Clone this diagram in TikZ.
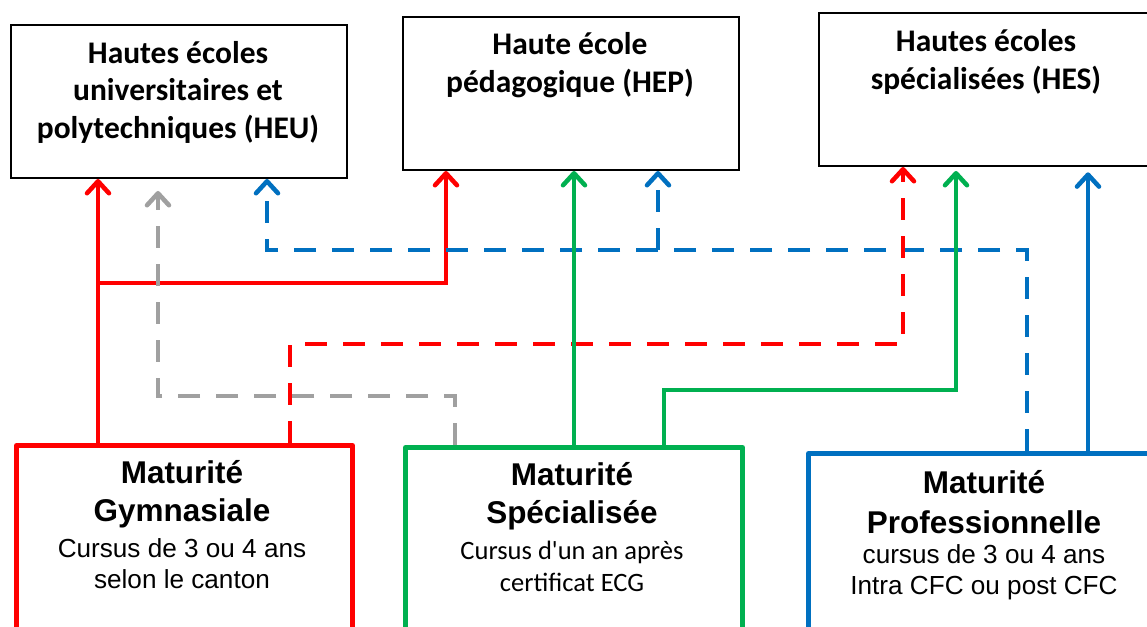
\documentclass[tikz,border=0pt]{standalone}
\usepackage{fontspec}
\usetikzlibrary{arrows.meta}
\newfontfamily\calfont{Carlito}
\newfontfamily\arifont{Liberation Sans}
\definecolor{cred}{HTML}{FF0000}
\definecolor{cgreen}{HTML}{00B050}
\definecolor{cblue}{HTML}{0070C0}
\definecolor{cgray}{HTML}{A0A0A0}
\tikzset{
  topbox/.style={draw=black, line width=1.5pt, minimum width=252pt, minimum height=114.75pt, anchor=north west, inner sep=0pt},
  botbox/.style={draw=#1, line width=3.7pt, line join=round, minimum height=150pt, anchor=north west, inner sep=0pt},
  toptext/.style={font=\calfont\bfseries\fontsize{23.6}{28.1}\selectfont, align=center, inner sep=0pt},
  bottitle/.style={font=\arifont\bfseries\fontsize{23.6}{28.5}\selectfont, align=center, inner sep=0pt},
  botsub/.style={font=\arifont\fontsize{19.6}{23.25}\selectfont, align=center, inner sep=0pt},
  botsubcal/.style={font=\calfont\fontsize{19.9}{24}\selectfont, align=center, inner sep=0pt},
  conn/.style={draw=#1, line width=3.4pt, -{Straight Barb[length=9pt,width=16.5pt,round]}},
  dconn/.style={conn=#1, dash pattern=on 16.5pt off 12pt},
}
\begin{document}
\begin{tikzpicture}[x=0.75pt,y=-0.75pt]
\useasboundingbox (0,0) rectangle (1147,627);
\clip (0,0) rectangle (1147,627);
\fill[white] (0,0) rectangle (1147,627);

% top boxes
\node[topbox] (HEU) at (10,24) {};
\node[topbox] (HEP) at (402,16) {};
\node[topbox] (HES) at (818,12) {};
\node[toptext] (tHEU) at (178,92) {Hautes écoles\\universitaires et\\polytechniques (HEU)};
\node[toptext] (tHEP) at (570,65) {Haute école\\pédagogique (HEP)};
\node[toptext] (tHES) at (986,62) {Hautes écoles\\spécialisées (HES)};

% bottom boxes
\node[botbox=cred, minimum width=252pt] (MG) at (14,443) {};
\node[botbox=cgreen, minimum width=252.75pt] (MS) at (403,445) {};
\node[botbox=cblue, minimum width=262.5pt] (MP) at (806,451) {};
\node[bottitle] (tMG) at (182,494) {Maturité\\Gymnasiale};
\node[botsub] (sMG) at (182,563.5) {Cursus de 3 ou 4 ans\\selon le canton};
\node[bottitle] (tMS) at (572,496) {Maturité\\Spécialisée};
\node[botsubcal] (sMS) at (572,566) {Cursus d'un an après\\certificat ECG};
\node[bottitle, font=\arifont\bfseries\fontsize{23.6}{30}\selectfont] (tMP) at (984,502) {Maturité\\Professionnelle};
\node[botsub] (sMP) at (984,572.5) {cursus de 3 ou 4 ans\\Intra CFC ou post CFC};

% junction coordinates
\coordinate (r1) at (98,0);
\coordinate (r2) at (446,283);
\coordinate (g1) at (455,396);
\coordinate (g2) at (158,396);
\coordinate (b1) at (1027,250);
\coordinate (b2) at (267,250);
\coordinate (b3) at (658,250);
\coordinate (d1) at (290,344);
\coordinate (d2) at (903,344);
\coordinate (e1) at (574,0);
\coordinate (e2) at (664,390);
\coordinate (e3) at (956,390);
\coordinate (p1) at (1088,0);

% connectors
\draw[conn=cred] (MG.north -| r1) -- (HEU.south -| r1);
\draw[conn=cred] (r1 |- r2) -- (r2) -- (HEP.south -| r2);
\draw[dconn=cgray, shorten >=9pt] (MS.north -| g1) -- (g1) -- (g2) -- (HEU.south -| g2);
\draw[dconn=cblue] (MP.north -| b1) -- (b1) -- (b2) -- (HEU.south -| b2);
\draw[dconn=cblue] (b3) -- (HEP.south -| b3);
\draw[dconn=cred] (MG.north -| d1) -- (d1) -- (d2) -- (HES.south -| d2);
\draw[conn=cgreen] (MS.north -| e1) -- (HEP.south -| e1);
\draw[conn=cgreen, shorten >=3pt] (MS.north -| e2) -- (e2) -- (e3) -- (HES.south -| e3);
\draw[conn=cblue, shorten >=4pt] (MP.north -| p1) -- (HES.south -| p1);
\end{tikzpicture}
\end{document}
